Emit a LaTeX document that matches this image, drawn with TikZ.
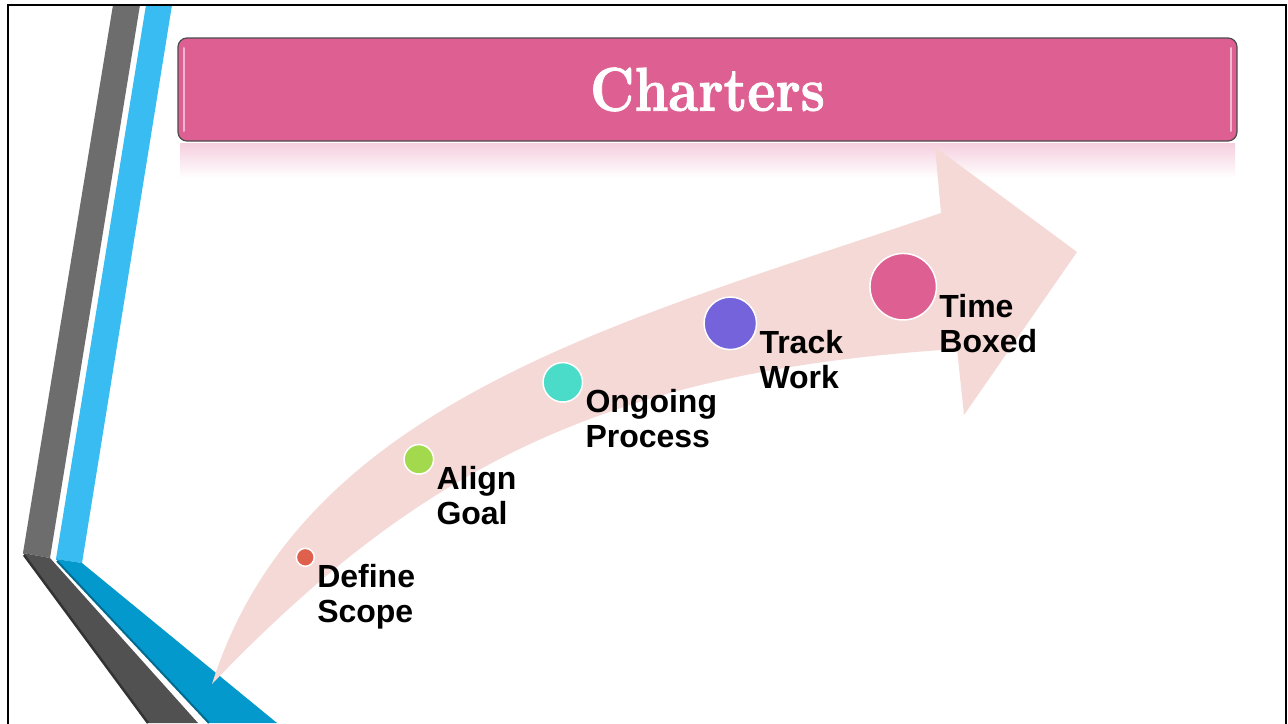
\documentclass[tikz,border=0pt]{standalone}
\usepackage{fontspec}
\newfontfamily\labelfont{Liberation Sans}
\newfontfamily\titlefont[Extension=.otf, FakeStretch=0.86, FakeBold=1.2]{lmroman10-bold}
\usetikzlibrary{positioning}

\definecolor{bannerpink}{HTML}{DE5F92}
\definecolor{arrowpink}{HTML}{F4D9D6}
\definecolor{bargray}{HTML}{6D6D6D}
\definecolor{bargraydark}{HTML}{515151}
\definecolor{barblue}{HTML}{38BCF1}
\definecolor{barbluedark}{HTML}{0399CD}
\definecolor{dotred}{HTML}{E0604E}
\definecolor{dotgreen}{HTML}{A3D94C}
\definecolor{dotteal}{HTML}{4BDBC9}
\definecolor{dotpurple}{HTML}{7563DC}

\begin{document}
\begin{tikzpicture} [
    x=1pt, y=-1pt,
    dot/.style={circle, draw=white, line width=1.5pt, inner sep=0pt},
    lbl/.style={font=\labelfont\bfseries\fontsize{32}{35}\selectfont, align=left, inner sep=0pt},
    banner/.style={rounded corners=9pt, fill=bannerpink, draw=black!70, line width=1.2pt,
        text=white, font=\titlefont\fontsize{62}{70}\selectfont},
    ]
    \useasboundingbox (0,0) rectangle (1288,723);

    %Bars
    \fill[bargray] (113,5) -- (140,5) -- (50,558) -- (23,553) -- cycle;
    \fill[barblue] (146,5) -- (172,5) -- (82,563) -- (56,559) -- cycle;
    \fill[bargraydark] (23,553) -- (50,558) -- (198,723) -- (147,723) -- cycle;
    \fill[barbluedark] (56,559) -- (82,563) -- (277,723) -- (208,723) -- cycle;
    \draw[black!80, line width=2.5pt] (24,555) -- (148,723);
    \draw[barbluedark!70!black, line width=2pt] (57,561) -- (209,723);

    %Frame
    \draw[black, line width=2pt] (8,5) rectangle (1286,740);

    %Title
    \shade[top color=bannerpink!30, bottom color=white] (180,143) rectangle (1235,178);
    \node[banner, minimum width=1059pt, minimum height=103pt] (title) at (707.5,89.5) {Charters};
    \draw[white!55!bannerpink, line width=2pt, line cap=round] (184,48) -- (184,131);
    \draw[white!55!bannerpink, line width=2pt, line cap=round] (1231,48) -- (1231,131);

    %Arrow
    \fill[arrowpink] (212,684) .. controls (302,399) and (628.8,319.6) .. (941,213)
        -- (935,147) -- (1077,252) -- (964,415) -- (957,349)
        .. controls (607,370.7) and (419,468) .. (212,684) -- cycle;

    %Nodes
    \node[dot, fill=dotred, minimum size=18pt] (scope) at (305.3,557.3) {};
    \node[dot, fill=dotgreen, minimum size=29.5pt] (goal) at (418.8,459.3) {};
    \node[dot, fill=dotteal, minimum size=39.5pt] (process) at (562.8,382.3) {};
    \node[dot, fill=dotpurple, minimum size=52.5pt] (work) at (730.3,323.3) {};
    \node[dot, fill=bannerpink, minimum size=66.5pt] (boxed) at (903.2,286.7) {};

    \node[lbl, below right=7pt and 2pt of scope.east] (scopelbl) {Define\\Scope};
    \node[lbl, below right=7pt and 2pt of goal.east] (goallbl) {Align\\Goal};
    \node[lbl, below right=7pt and 2pt of process.east] (processlbl) {Ongoing\\Process};
    \node[lbl, below right=7pt and 2pt of work.east] (worklbl) {Track\\Work};
    \node[lbl, below right=7pt and 2pt of boxed.east] (boxedlbl) {Time\\Boxed};
\end{tikzpicture}
\end{document}
